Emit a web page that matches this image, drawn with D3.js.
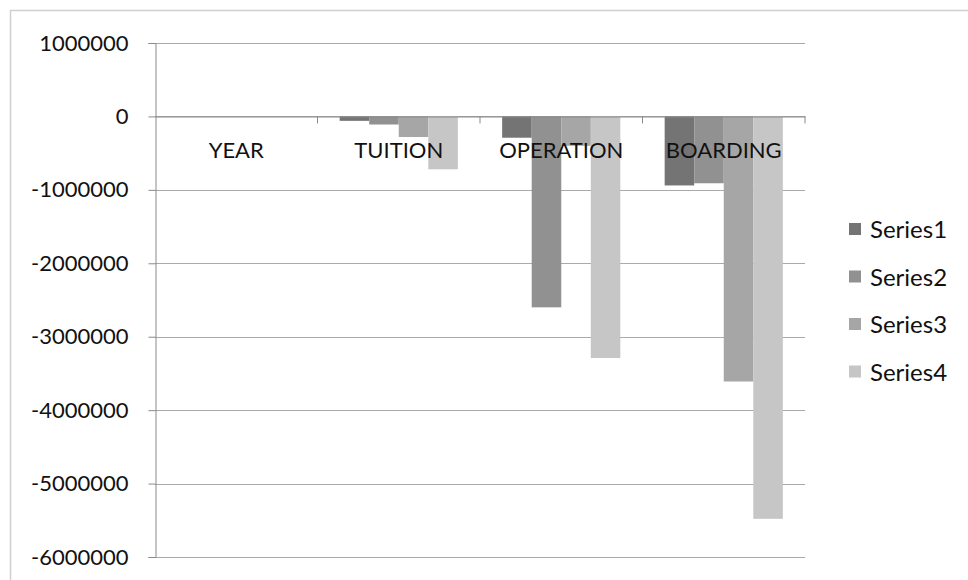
<!DOCTYPE html>
<html>
<head>
<meta charset="utf-8">
<script src="https://cdn.jsdelivr.net/npm/d3@7"></script>
<style>
  body { margin: 0; background: #fff; }
  text { font-family: Lato, "Open Sans", sans-serif; fill: #111; }
</style>
</head>
<body>
<div id="chart"></div>
<script>
// Chart data
const categories = ["YEAR", "TUITION", "OPERATION", "BOARDING"];
const seriesNames = ["Series1", "Series2", "Series3", "Series4"];
const series1 = [0, -60000, -290000, -940000];
const series2 = [0, -110000, -2600000, -910000];
const series3 = [0, -280000, -400000, -3610000];
const series4 = [0, -720000, -3290000, -5480000];
const yTicks = [1000000, 0, -1000000, -2000000, -3000000, -4000000, -5000000, -6000000];

const seriesValues = [series1, series2, series3, series4];
const colors = ["#747474", "#919191", "#a6a6a6", "#c6c6c6"];

const fullWidth = 968, fullHeight = 580;
const plot = { left: 155, right: 805, top: 43, bottom: 557 };

const svg = d3.select("#chart")
    .append("svg")
    .attr("width", fullWidth)
    .attr("height", fullHeight);

// Chart frame (top and left edges visible)
svg.append("path")
    .attr("d", "M10.5,580 V10.5 H968")
    .attr("fill", "none")
    .attr("stroke", "#d0d0d0")
    .attr("stroke-width", 1.5);

// Scales
const x = d3.scaleBand()
    .domain(categories)
    .range([plot.left, plot.right])
    .paddingInner(0)
    .paddingOuter(0);

const barW = x.bandwidth() / 5.5;
const xSeries = d3.scaleBand()
    .domain(seriesNames)
    .range([0.75 * barW, x.bandwidth() - 0.75 * barW]);

const y = d3.scaleLinear()
    .domain([-6000000, 1000000])
    .range([plot.bottom, plot.top]);

// Gridlines
svg.append("g")
    .selectAll("line")
    .data(yTicks)
    .join("line")
    .attr("x1", plot.left)
    .attr("x2", plot.right)
    .attr("y1", d => Math.round(y(d)) + 0.5)
    .attr("y2", d => Math.round(y(d)) + 0.5)
    .attr("stroke", "#a9a9a9")
    .attr("stroke-width", 1);

// Y axis
const yAxis = svg.append("g")
    .attr("transform", `translate(${plot.left + 0.5},0)`)
    .call(d3.axisLeft(y).tickValues(yTicks).tickFormat(d => String(d)).tickSize(7).tickPadding(20));
yAxis.select(".domain").attr("stroke", "#8a8a8a");
yAxis.selectAll(".tick line").attr("stroke", "#8a8a8a");
yAxis.selectAll(".tick text")
    .style("font-family", "Lato, sans-serif")
    .style("font-size", "22px")
    .attr("fill", "#111");

// Bars
const groups = svg.append("g")
    .selectAll("g")
    .data(seriesNames)
    .join("g")
    .attr("fill", (d, i) => colors[i]);

groups.selectAll("rect")
    .data((s, i) => categories.map((c, j) => ({ cat: c, s: s, v: seriesValues[i][j] })))
    .join("rect")
    .attr("x", d => x(d.cat) + xSeries(d.s))
    .attr("width", xSeries.bandwidth())
    .attr("y", d => Math.min(y(0), y(d.v)))
    .attr("height", d => Math.abs(y(d.v) - y(0)));

// X axis on zero line
const xAxis = svg.append("g")
    .attr("transform", `translate(0,${Math.round(y(0)) + 0.5})`)
    .call(d3.axisBottom(x).tickSize(0).tickPadding(26));
xAxis.select(".domain").attr("stroke", "#8a8a8a");
xAxis.selectAll(".tick text")
    .style("font-family", "Lato, sans-serif")
    .style("font-size", "22px")
    .attr("fill", "#111");

// Category boundary ticks
svg.append("g")
    .selectAll("line")
    .data(categories.slice(1).concat(["end"]))
    .join("line")
    .attr("x1", d => d === "end" ? plot.right : x(d))
    .attr("x2", d => d === "end" ? plot.right : x(d))
    .attr("y1", y(0))
    .attr("y2", y(0) + 7)
    .attr("stroke", "#8a8a8a");

// Legend
const legend = svg.append("g")
    .selectAll("g")
    .data(seriesNames)
    .join("g")
    .attr("transform", (d, i) => `translate(849,${229 + i * 47.5})`);

legend.append("rect")
    .attr("x", 0)
    .attr("y", -6)
    .attr("width", 12)
    .attr("height", 12)
    .attr("fill", (d, i) => colors[i]);

legend.append("text")
    .attr("x", 21)
    .attr("y", 9)
    .style("font-size", "24px")
    .text(d => d);
</script>
</body>
</html>
